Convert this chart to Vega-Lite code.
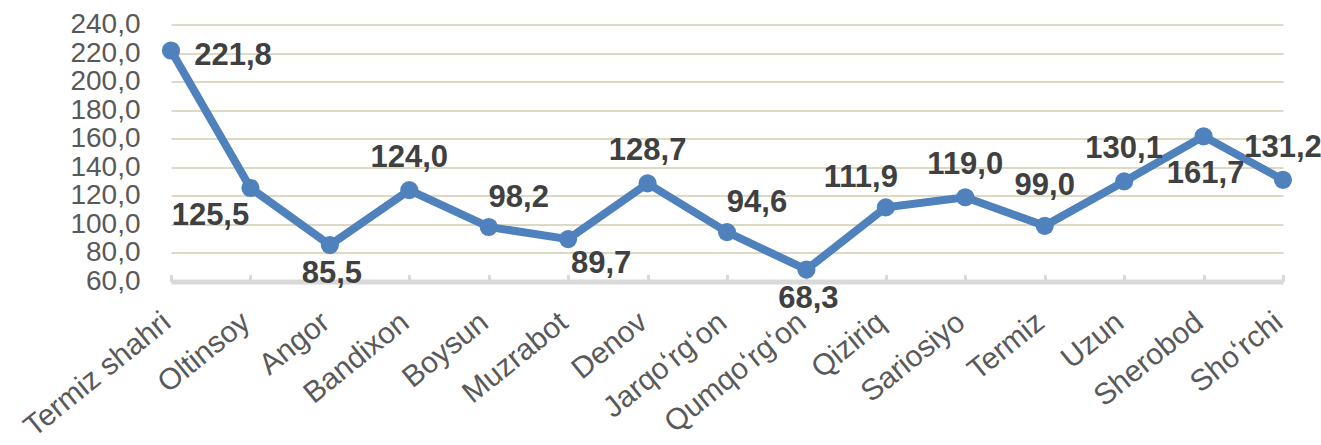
{
  "$schema": "https://vega.github.io/schema/vega-lite/v6.json",
  "width": 1112,
  "height": 257,
  "autosize": {"type": "none"},
  "padding": {"left": 171, "top": 24.5, "right": 38, "bottom": 163.5},
  "background": "white",
  "data": {
    "values": [
      {"district": "Termiz shahri", "value": 221.8},
      {"district": "Oltinsoy", "value": 125.5},
      {"district": "Angor", "value": 85.5},
      {"district": "Bandixon", "value": 124.0},
      {"district": "Boysun", "value": 98.2},
      {"district": "Muzrabot", "value": 89.7},
      {"district": "Denov", "value": 128.7},
      {"district": "Jarqoʻrgʻon", "value": 94.6},
      {"district": "Qumqoʻrgʻon", "value": 68.3},
      {"district": "Qiziriq", "value": 111.9},
      {"district": "Sariosiyo", "value": 119.0},
      {"district": "Termiz", "value": 99.0},
      {"district": "Uzun", "value": 130.1},
      {"district": "Sherobod", "value": 161.7},
      {"district": "Shoʻrchi", "value": 131.2}
    ]
  },
  "encoding": {
    "x": {
      "field": "district",
      "type": "nominal",
      "sort": null,
      "scale": {"type": "point", "padding": 0},
      "axis": {
        "title": null,
        "labelAngle": -39,
        "labelAlign": "right",
        "labelBaseline": "top",
        "labelPadding": 32,
        "labelOffset": -14,
        "labelFontSize": 30,
        "labelColor": "#595959",
        "labelFont": "Liberation Sans",
        "labelOverlap": false,
        "labelFlush": false,
        "domainColor": "#d9d9d9",
        "domainWidth": 5,
        "ticks": true,
        "tickSize": -7,
        "tickWidth": 3,
        "tickColor": "#d9d9d9",
        "grid": false
      }
    },
    "y": {
      "field": "value",
      "type": "quantitative",
      "scale": {"domain": [60, 240], "nice": false, "zero": false},
      "axis": {
        "title": null,
        "values": [60, 80, 100, 120, 140, 160, 180, 200, 220, 240],
        "format": ".1f",
        "labelFontSize": 28,
        "labelColor": "#595959",
        "labelFont": "Liberation Sans",
        "labelPadding": 31,
        "domain": false,
        "ticks": false,
        "grid": true,
        "gridColor": "#ddd9c3",
        "gridWidth": 2
      }
    }
  },
  "layer": [
    {"mark": {"type": "line", "color": "#4f81bd", "strokeWidth": 8}},
    {"mark": {"type": "circle", "color": "#4f81bd", "opacity": 1, "size": 330}},
    {
      "transform": [{"filter": {"field": "district", "oneOf": ["Bandixon", "Denov", "Sariosiyo", "Uzun", "Shoʻrchi"]}}],
      "mark": {"type": "text", "dx": 0, "dy": -32, "font": "Liberation Sans", "fontWeight": "bold", "fontSize": 31, "color": "#404040", "baseline": "middle", "align": "center"},
      "encoding": {"text": {"field": "value", "type": "quantitative", "format": ".1f"}}
    },
    {
      "transform": [{"filter": {"field": "district", "oneOf": ["Termiz"]}}],
      "mark": {"type": "text", "dx": 0, "dy": -40, "font": "Liberation Sans", "fontWeight": "bold", "fontSize": 31, "color": "#404040", "baseline": "middle", "align": "center"},
      "encoding": {"text": {"field": "value", "type": "quantitative", "format": ".1f"}}
    },
    {
      "transform": [{"filter": {"field": "district", "oneOf": ["Angor", "Qumqoʻrgʻon"]}}],
      "mark": {"type": "text", "dx": 2, "dy": 29, "font": "Liberation Sans", "fontWeight": "bold", "fontSize": 31, "color": "#404040", "baseline": "middle", "align": "center"},
      "encoding": {"text": {"field": "value", "type": "quantitative", "format": ".1f"}}
    },
    {
      "transform": [{"filter": {"field": "district", "oneOf": ["Sherobod"]}}],
      "mark": {"type": "text", "dx": 2, "dy": 38, "font": "Liberation Sans", "fontWeight": "bold", "fontSize": 31, "color": "#404040", "baseline": "middle", "align": "center"},
      "encoding": {"text": {"field": "value", "type": "quantitative", "format": ".1f"}}
    },
    {
      "transform": [{"filter": {"field": "district", "oneOf": ["Termiz shahri"]}}],
      "mark": {"type": "text", "dx": 62, "dy": 6, "font": "Liberation Sans", "fontWeight": "bold", "fontSize": 31, "color": "#404040", "baseline": "middle", "align": "center"},
      "encoding": {"text": {"field": "value", "type": "quantitative", "format": ".1f"}}
    },
    {
      "transform": [{"filter": {"field": "district", "oneOf": ["Oltinsoy"]}}],
      "mark": {"type": "text", "dx": -40, "dy": 28, "font": "Liberation Sans", "fontWeight": "bold", "fontSize": 31, "color": "#404040", "baseline": "middle", "align": "center"},
      "encoding": {"text": {"field": "value", "type": "quantitative", "format": ".1f"}}
    },
    {
      "transform": [{"filter": {"field": "district", "oneOf": ["Boysun", "Jarqoʻrgʻon"]}}],
      "mark": {"type": "text", "dx": 30, "dy": -29, "font": "Liberation Sans", "fontWeight": "bold", "fontSize": 31, "color": "#404040", "baseline": "middle", "align": "center"},
      "encoding": {"text": {"field": "value", "type": "quantitative", "format": ".1f"}}
    },
    {
      "transform": [{"filter": {"field": "district", "oneOf": ["Muzrabot"]}}],
      "mark": {"type": "text", "dx": 33, "dy": 25, "font": "Liberation Sans", "fontWeight": "bold", "fontSize": 31, "color": "#404040", "baseline": "middle", "align": "center"},
      "encoding": {"text": {"field": "value", "type": "quantitative", "format": ".1f"}}
    },
    {
      "transform": [{"filter": {"field": "district", "oneOf": ["Qiziriq"]}}],
      "mark": {"type": "text", "dx": -25, "dy": -29, "font": "Liberation Sans", "fontWeight": "bold", "fontSize": 31, "color": "#404040", "baseline": "middle", "align": "center"},
      "encoding": {"text": {"field": "value", "type": "quantitative", "format": ".1f"}}
    }
  ],
  "config": {
    "view": {"stroke": null},
    "locale": {"number": {"decimal": ",", "thousands": " ", "grouping": [3], "currency": ["", ""]}}
  }
}
